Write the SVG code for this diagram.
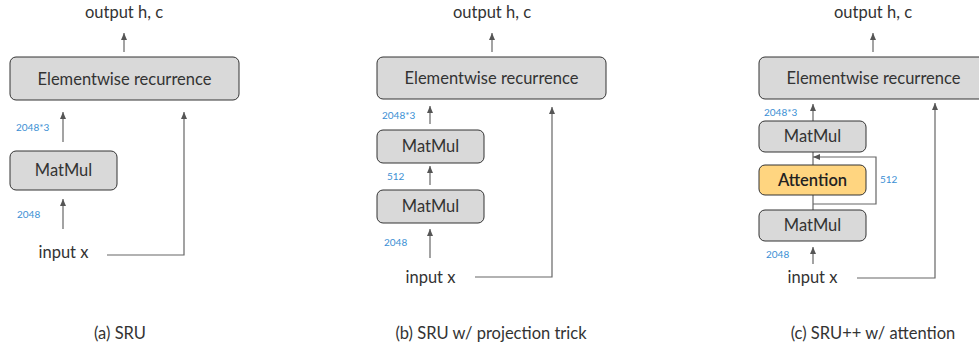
<svg xmlns="http://www.w3.org/2000/svg" width="979" height="349" viewBox="0 0 979 349">
<style>
.box{fill:#d9d9d9;stroke:#333;stroke-width:1}
.att{fill:#ffd580;stroke:#333;stroke-width:1}
.t{font-family:Lato,"Open Sans",sans-serif;font-size:16.5px;fill:#333;text-anchor:middle}
.tb{font-family:Lato,"Open Sans",sans-serif;font-size:16.5px;fill:#222;text-anchor:middle;font-weight:600}
.lbl{font-family:Lato,"Open Sans",sans-serif;font-size:10px;fill:#3b8fd4}
.c{fill:none;stroke:#666;stroke-width:1.2}
</style>
<defs>
<marker id="ah" markerUnits="userSpaceOnUse" markerWidth="8" markerHeight="8" viewBox="0 0 8 8" refX="7" refY="4" orient="auto">
<path d="M0,1 L7,4 L0,7 Z" fill="#555"/>
</marker>
</defs>

<g id="connectors">
<!-- (a) -->
<line class="c" x1="124" y1="52" x2="124" y2="33" marker-end="url(#ah)"/>
<line class="c" x1="63" y1="142" x2="63" y2="112" marker-end="url(#ah)"/>
<line class="c" x1="63" y1="229" x2="63" y2="199" marker-end="url(#ah)"/>
<polyline class="c" points="107,255 184,255 184,112" marker-end="url(#ah)"/>
<!-- (b) -->
<line class="c" x1="492" y1="52" x2="492" y2="33" marker-end="url(#ah)"/>
<line class="c" x1="430" y1="124" x2="430" y2="106" marker-end="url(#ah)"/>
<line class="c" x1="430" y1="185" x2="430" y2="166" marker-end="url(#ah)"/>
<line class="c" x1="430" y1="258" x2="430" y2="229" marker-end="url(#ah)"/>
<polyline class="c" points="475,277 552,277 552,107" marker-end="url(#ah)"/>
<!-- (c) -->
<line class="c" x1="873" y1="52" x2="873" y2="33" marker-end="url(#ah)"/>
<line class="c" x1="813" y1="121" x2="813" y2="104" marker-end="url(#ah)"/>
<line class="c" x1="813" y1="165" x2="813" y2="152"/>
<line class="c" x1="813" y1="210" x2="813" y2="195"/>
<polyline class="c" points="813,204 876,204 876,157 813,157" marker-end="url(#ah)"/>
<line class="c" x1="813" y1="264" x2="813" y2="247" marker-end="url(#ah)"/>
<polyline class="c" points="857,278 935,278 935,103" marker-end="url(#ah)"/>
</g>

<!-- Panel (a) -->
<g id="a-output"><text class="t" x="124" y="18">output h, c</text></g>
<g id="a-elementwise"><rect class="box" x="10" y="57" width="229" height="43" rx="6"/><text class="t" x="124.5" y="84.5">Elementwise recurrence</text></g>
<g id="a-matmul"><rect class="box" x="10" y="151" width="107" height="39" rx="6"/><text class="t" x="63.5" y="176">MatMul</text></g>
<g id="a-input"><text class="t" x="63.5" y="258">input x</text></g>
<g id="a-labels"><text class="lbl" x="16" y="131">2048*3</text><text class="lbl" x="17" y="218">2048</text></g>
<g id="a-caption"><text class="t" x="120" y="339">(a) SRU</text></g>

<!-- Panel (b) -->
<g id="b-output"><text class="t" x="492" y="18">output h, c</text></g>
<g id="b-elementwise"><rect class="box" x="377" y="57" width="229" height="42" rx="6"/><text class="t" x="491.5" y="84">Elementwise recurrence</text></g>
<g id="b-matmul2"><rect class="box" x="377" y="130" width="107" height="33" rx="6"/><text class="t" x="430.5" y="152">MatMul</text></g>
<g id="b-matmul1"><rect class="box" x="377" y="190" width="107" height="33" rx="6"/><text class="t" x="430.5" y="212">MatMul</text></g>
<g id="b-input"><text class="t" x="430.5" y="283">input x</text></g>
<g id="b-labels"><text class="lbl" x="382" y="119">2048*3</text><text class="lbl" x="387" y="180">512</text><text class="lbl" x="384" y="246">2048</text></g>
<g id="b-caption"><text class="t" x="491" y="339">(b) SRU w/ projection trick</text></g>

<!-- Panel (c) -->
<g id="c-output"><text class="t" x="873" y="18">output h, c</text></g>
<g id="c-elementwise"><rect class="box" x="759" y="57" width="229" height="42" rx="6"/><text class="t" x="873.5" y="84">Elementwise recurrence</text></g>
<g id="c-matmul2"><rect class="box" x="759" y="121" width="107" height="31" rx="6"/><text class="t" x="812.5" y="142">MatMul</text></g>
<g id="c-attention"><rect class="att" x="759" y="165" width="107" height="30" rx="6"/><text class="tb" x="812.5" y="185.5">Attention</text></g>
<g id="c-matmul1"><rect class="box" x="759" y="210" width="107" height="31" rx="6"/><text class="t" x="812.5" y="231">MatMul</text></g>
<g id="c-input"><text class="t" x="812.5" y="283">input x</text></g>
<g id="c-labels"><text class="lbl" x="764" y="116">2048*3</text><text class="lbl" x="880" y="183">512</text><text class="lbl" x="766" y="258">2048</text></g>
<g id="c-caption"><text class="t" x="873" y="339">(c) SRU++ w/ attention</text></g>
</svg>
